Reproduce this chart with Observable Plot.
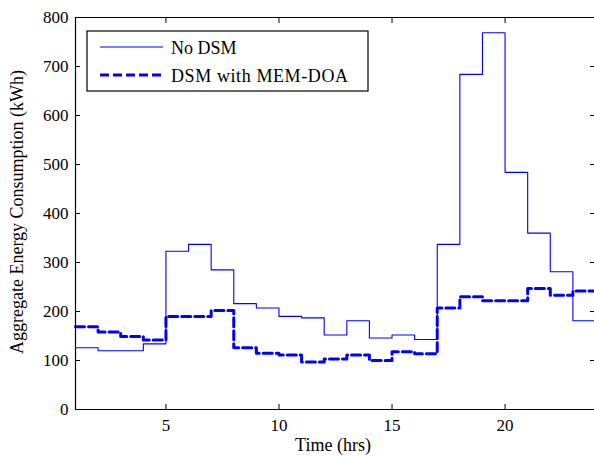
<!DOCTYPE html>
<html>
<head>
<meta charset="utf-8">
<script src="https://cdn.jsdelivr.net/npm/d3@7"></script>
<script src="https://cdn.jsdelivr.net/npm/@observablehq/plot@0.6"></script>
<style>
  html, body { margin: 0; padding: 0; background: #fff; overflow: hidden; }
  svg { font-family: "Liberation Serif", "DejaVu Serif", serif; }
</style>
</head>
<body>
<div id="chart"></div>
<script>
const hours = [1,2,3,4,5,6,7,8,9,10,11,12,13,14,15,16,17,18,19,20,21,22,23,24];
const noDSM = [126,120,120,134,323,337,285,216,207,190,187,152,181,146,152,143,337,684,769,484,360,281,181,181];
const dsmMEMDOA = [169,158,149,142,190,190,202,126,115,111,97,103,111,100,118,114,207,230,222,222,247,233,242,242];
const xTicks = [5,10,15,20];
const yTicks = [0,100,200,300,400,500,600,700,800];
const seriesNames = ["No DSM", "DSM with MEM-DOA"];
const blue = "#0000ff";

const rows = [];
hours.forEach((h, i) => {
  rows.push({hour: h, value: noDSM[i], series: seriesNames[0]});
  rows.push({hour: h, value: dsmMEMDOA[i], series: seriesNames[1]});
});

const W = 594, H = 456;
const chart = Plot.plot({
  width: W,
  height: H,
  marginLeft: 75,
  marginRight: 0,
  marginTop: 17,
  marginBottom: 47,
  style: {fontFamily: "Liberation Serif, serif", fontSize: "17px", color: "#000", background: "#fff"},
  x: {domain: [1, 24], range: [75, 595]},
  y: {domain: [0, 800], range: [409, 17]},
  marks: [
    Plot.lineY(rows.filter(d => d.series === seriesNames[0]), {x: "hour", y: "value", curve: "step-after", stroke: blue, strokeWidth: 1.1}),
    Plot.lineY(rows.filter(d => d.series === seriesNames[1]), {x: "hour", y: "value", curve: "step-after", stroke: blue, strokeWidth: 3, strokeDasharray: "9,4"}),
    Plot.ruleX([1], {stroke: "#000", strokeWidth: 1.2}),
    Plot.ruleY([0, 800], {stroke: "#000", strokeWidth: 1.2}),
    Plot.axisX(xTicks, {anchor: "bottom", tickSize: -5, tickPadding: 14, fontSize: 17, label: null}),
    Plot.axisX(xTicks, {anchor: "top", tickSize: -5, tickFormat: () => "", label: null}),
    Plot.axisY(yTicks, {anchor: "left", tickSize: -5, tickPadding: 12, fontSize: 17, label: null}),
    Plot.axisY(yTicks, {anchor: "right", tickSize: -5, tickFormat: () => "", label: null})
  ]
});
document.getElementById("chart").appendChild(chart);

const svg = d3.select(chart);
// Axis titles
svg.append("text")
  .attr("x", 333).attr("y", 451)
  .attr("text-anchor", "middle")
  .attr("font-size", 18)
  .attr("fill", "#000")
  .text("Time (hrs)");
svg.append("text")
  .attr("transform", "translate(23,212) rotate(-90)")
  .attr("text-anchor", "middle")
  .attr("font-size", 18)
  .attr("fill", "#000")
  .text("Aggregate Energy Consumption (kWh)");

// Legend
const lg = svg.append("g").attr("text-anchor", "start");
lg.append("rect").attr("x", 87).attr("y", 31).attr("width", 281).attr("height", 60)
  .attr("fill", "#fff").attr("stroke", "#000").attr("stroke-width", 1.2);
lg.append("line").attr("x1", 100).attr("x2", 163).attr("y1", 47).attr("y2", 47)
  .attr("stroke", blue).attr("stroke-width", 1.1);
lg.append("line").attr("x1", 100).attr("x2", 163).attr("y1", 75).attr("y2", 75)
  .attr("stroke", blue).attr("stroke-width", 3).attr("stroke-dasharray", "9,4");
lg.append("text").attr("x", 171).attr("y", 54).attr("text-anchor", "start").attr("font-size", 18).attr("fill", "#000").text(seriesNames[0]);
lg.append("text").attr("x", 171).attr("y", 82).attr("text-anchor", "start").attr("font-size", 18).attr("fill", "#000")
  .attr("letter-spacing", "0.6").text(seriesNames[1]);
</script>
</body>
</html>
